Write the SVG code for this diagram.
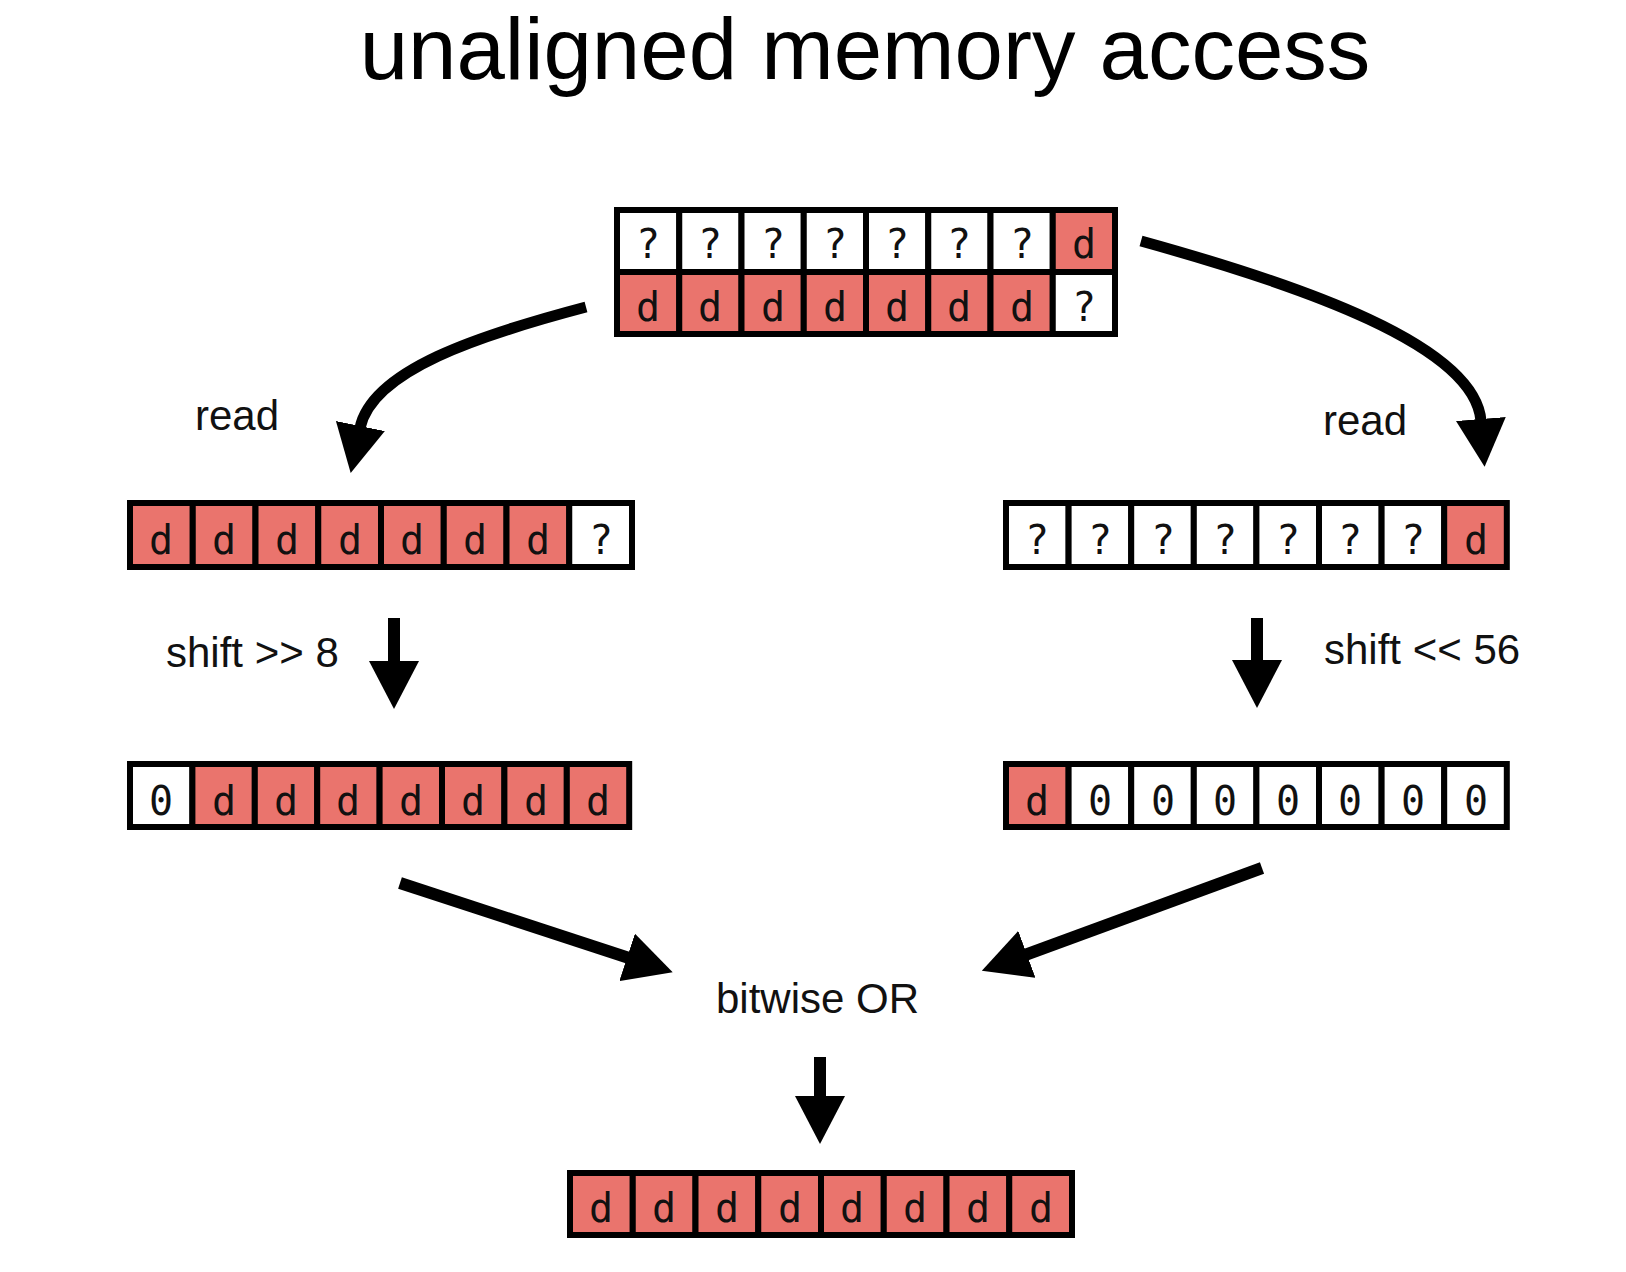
<svg xmlns="http://www.w3.org/2000/svg" width="1626" height="1272" viewBox="0 0 1626 1272">
<style>
.bg{fill:#ffffff}
.c{stroke:#000;stroke-width:6}
.w{fill:#ffffff}
.r{fill:#ea746d}
.t{font-family:"DejaVu Sans Mono","Liberation Mono",monospace;font-size:40px;fill:#111;text-anchor:middle}
.lbl{font-family:"Liberation Sans",Arial,sans-serif;font-size:42px;fill:#111}
.title{font-family:"Liberation Sans",Arial,sans-serif;font-size:87px;fill:#000;text-anchor:middle}
.arr{fill:none;stroke:#000;stroke-width:11;marker-end:url(#ah)}
.arr2{fill:none;stroke:#000;stroke-width:12;marker-end:url(#ah)}
</style>
<defs>
<marker id="ah" markerUnits="userSpaceOnUse" viewBox="0 0 48 50" refX="2" refY="25" markerWidth="48" markerHeight="50" orient="auto">
<path d="M0,0 L48,25 L0,50 z" fill="#000"/>
</marker>
</defs>
<rect class="bg" x="0" y="0" width="1626" height="1272"/>
<text class="title" x="865" y="79">unaligned memory access</text>

<g id="source">
<rect class="c w" x="617" y="210" width="62.25" height="62"/>
<rect class="c w" x="679.25" y="210" width="62.25" height="62"/>
<rect class="c w" x="741.5" y="210" width="62.25" height="62"/>
<rect class="c w" x="803.75" y="210" width="62.25" height="62"/>
<rect class="c w" x="866" y="210" width="62.25" height="62"/>
<rect class="c w" x="928.25" y="210" width="62.25" height="62"/>
<rect class="c w" x="990.5" y="210" width="62.25" height="62"/>
<rect class="c r" x="1052.75" y="210" width="62.25" height="62"/>
<rect class="c r" x="617" y="272" width="62.25" height="62"/>
<rect class="c r" x="679.25" y="272" width="62.25" height="62"/>
<rect class="c r" x="741.5" y="272" width="62.25" height="62"/>
<rect class="c r" x="803.75" y="272" width="62.25" height="62"/>
<rect class="c r" x="866" y="272" width="62.25" height="62"/>
<rect class="c r" x="928.25" y="272" width="62.25" height="62"/>
<rect class="c r" x="990.5" y="272" width="62.25" height="62"/>
<rect class="c w" x="1052.75" y="272" width="62.25" height="62"/>
<text class="t" x="648" y="258">?</text><text class="t" x="710" y="258">?</text><text class="t" x="773" y="258">?</text><text class="t" x="835" y="258">?</text><text class="t" x="897" y="258">?</text><text class="t" x="959" y="258">?</text><text class="t" x="1022" y="258">?</text><text class="t" x="1084" y="258">d</text>
<text class="t" x="648" y="321">d</text><text class="t" x="710" y="321">d</text><text class="t" x="773" y="321">d</text><text class="t" x="835" y="321">d</text><text class="t" x="897" y="321">d</text><text class="t" x="959" y="321">d</text><text class="t" x="1022" y="321">d</text><text class="t" x="1084" y="321">?</text>
</g>

<g id="read-left">
<rect class="c r" x="130" y="503" width="62.75" height="64"/>
<rect class="c r" x="192.75" y="503" width="62.75" height="64"/>
<rect class="c r" x="255.5" y="503" width="62.75" height="64"/>
<rect class="c r" x="318.25" y="503" width="62.75" height="64"/>
<rect class="c r" x="381" y="503" width="62.75" height="64"/>
<rect class="c r" x="443.75" y="503" width="62.75" height="64"/>
<rect class="c r" x="506.5" y="503" width="62.75" height="64"/>
<rect class="c w" x="569.25" y="503" width="62.75" height="64"/>
<text class="t" x="161" y="554">d</text><text class="t" x="224" y="554">d</text><text class="t" x="287" y="554">d</text><text class="t" x="350" y="554">d</text><text class="t" x="412" y="554">d</text><text class="t" x="475" y="554">d</text><text class="t" x="538" y="554">d</text><text class="t" x="601" y="554">?</text>
</g>

<g id="read-right">
<rect class="c w" x="1006" y="503" width="62.6" height="64"/>
<rect class="c w" x="1068.6" y="503" width="62.6" height="64"/>
<rect class="c w" x="1131.2" y="503" width="62.6" height="64"/>
<rect class="c w" x="1193.8" y="503" width="62.6" height="64"/>
<rect class="c w" x="1256.4" y="503" width="62.6" height="64"/>
<rect class="c w" x="1319" y="503" width="62.6" height="64"/>
<rect class="c w" x="1381.6" y="503" width="62.6" height="64"/>
<rect class="c r" x="1444.2" y="503" width="62.6" height="64"/>
<text class="t" x="1037" y="554">?</text><text class="t" x="1100" y="554">?</text><text class="t" x="1163" y="554">?</text><text class="t" x="1225" y="554">?</text><text class="t" x="1288" y="554">?</text><text class="t" x="1350" y="554">?</text><text class="t" x="1413" y="554">?</text><text class="t" x="1476" y="554">d</text>
</g>

<g id="shifted-left">
<rect class="c w" x="130" y="764" width="62.4" height="63"/>
<rect class="c r" x="192.4" y="764" width="62.4" height="63"/>
<rect class="c r" x="254.8" y="764" width="62.4" height="63"/>
<rect class="c r" x="317.2" y="764" width="62.4" height="63"/>
<rect class="c r" x="379.6" y="764" width="62.4" height="63"/>
<rect class="c r" x="442" y="764" width="62.4" height="63"/>
<rect class="c r" x="504.4" y="764" width="62.4" height="63"/>
<rect class="c r" x="566.8" y="764" width="62.4" height="63"/>
<text class="t" x="161" y="815">0</text><text class="t" x="224" y="815">d</text><text class="t" x="286" y="815">d</text><text class="t" x="348" y="815">d</text><text class="t" x="411" y="815">d</text><text class="t" x="473" y="815">d</text><text class="t" x="536" y="815">d</text><text class="t" x="598" y="815">d</text>
</g>

<g id="shifted-right">
<rect class="c r" x="1006" y="764" width="62.6" height="63"/>
<rect class="c w" x="1068.6" y="764" width="62.6" height="63"/>
<rect class="c w" x="1131.2" y="764" width="62.6" height="63"/>
<rect class="c w" x="1193.8" y="764" width="62.6" height="63"/>
<rect class="c w" x="1256.4" y="764" width="62.6" height="63"/>
<rect class="c w" x="1319" y="764" width="62.6" height="63"/>
<rect class="c w" x="1381.6" y="764" width="62.6" height="63"/>
<rect class="c w" x="1444.2" y="764" width="62.6" height="63"/>
<text class="t" x="1037" y="815">d</text><text class="t" x="1100" y="815">0</text><text class="t" x="1163" y="815">0</text><text class="t" x="1225" y="815">0</text><text class="t" x="1288" y="815">0</text><text class="t" x="1350" y="815">0</text><text class="t" x="1413" y="815">0</text><text class="t" x="1476" y="815">0</text>
</g>

<g id="result">
<rect class="c r" x="570" y="1173" width="62.75" height="62"/>
<rect class="c r" x="632.75" y="1173" width="62.75" height="62"/>
<rect class="c r" x="695.5" y="1173" width="62.75" height="62"/>
<rect class="c r" x="758.25" y="1173" width="62.75" height="62"/>
<rect class="c r" x="821" y="1173" width="62.75" height="62"/>
<rect class="c r" x="883.75" y="1173" width="62.75" height="62"/>
<rect class="c r" x="946.5" y="1173" width="62.75" height="62"/>
<rect class="c r" x="1009.25" y="1173" width="62.75" height="62"/>
<text class="t" x="601" y="1222">d</text><text class="t" x="664" y="1222">d</text><text class="t" x="727" y="1222">d</text><text class="t" x="790" y="1222">d</text><text class="t" x="852" y="1222">d</text><text class="t" x="915" y="1222">d</text><text class="t" x="978" y="1222">d</text><text class="t" x="1041" y="1222">d</text>
</g>

<g id="labels">
<text id="label-read-left" class="lbl" x="195" y="430">read</text>
<text id="label-read-right" class="lbl" x="1323" y="435">read</text>
<text id="label-shift-right" class="lbl" x="166" y="667">shift &gt;&gt; 8</text>
<text id="label-shift-left" class="lbl" x="1324" y="664">shift &lt;&lt; 56</text>
<text id="label-or" class="lbl" x="716" y="1013">bitwise OR</text>
</g>

<g id="connectors">
<path class="arr" d="M586,307 C480,335 372,370 360,428"/>
<path class="arr" d="M1141,241 C1300,285 1475,345 1481,421"/>
<path class="arr2" d="M394,618 L394,663"/>
<path class="arr2" d="M1257,618 L1257,662"/>
<path class="arr2" d="M400,883 L629,958"/>
<path class="arr2" d="M1262,868 L1025,955"/>
<path class="arr2" d="M820,1057 L820,1098"/>
</g>
</svg>
